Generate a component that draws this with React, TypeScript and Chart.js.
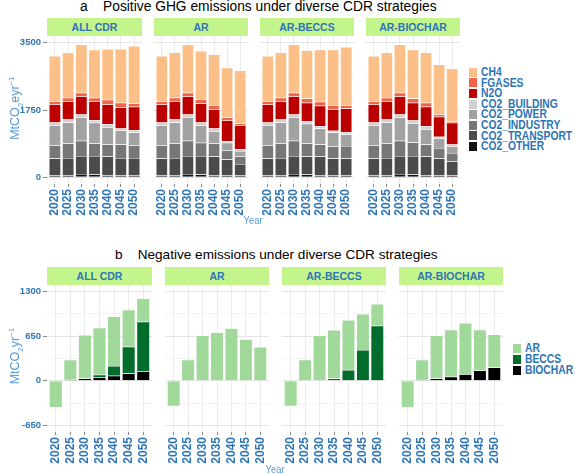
import React, { useEffect, useRef } from 'react';
import { Chart, registerables } from 'chart.js';

Chart.register(...registerables);

// ---------- data ----------
const YEARS = ['2020', '2025', '2030', '2035', '2040', '2045', '2050'];
const FACETS = ['ALL CDR', 'AR', 'AR-BECCS', 'AR-BIOCHAR'];

// Panel a: positive GHG emissions (MtCO2e/yr), stacked bottom -> top
const POS_SERIES = ['CO2_OTHER', 'CO2_TRANSPORT', 'CO2_INDUSTRY', 'CO2_POWER', 'CO2_BUILDING', 'N2O', 'FGASES', 'CH4'];
const POS_COLORS = ['#141414', '#4B4B4B', '#777777', '#A2A2A2', '#D0D0D0', '#BC0000', '#F2644A', '#FDBF88'];

const CO2_OTHER_ALLCDR = [52, 52, 87, 70, 52, 52, 52];
const CO2_OTHER_AR = [52, 52, 87, 70, 52, 52, 52];
const CO2_OTHER_BECCS = [52, 52, 87, 70, 52, 52, 52];
const CO2_OTHER_BIOCHAR = [52, 52, 87, 70, 52, 52, 52];

const CO2_TRANSPORT_ALLCDR = [434, 452, 469, 486, 486, 452, 452];
const CO2_TRANSPORT_AR = [434, 452, 469, 486, 486, 408, 295];
const CO2_TRANSPORT_BECCS = [434, 452, 469, 468, 486, 434, 434];
const CO2_TRANSPORT_BIOCHAR = [434, 452, 469, 486, 486, 434, 365];

const CO2_INDUSTRY_ALLCDR = [348, 373, 391, 321, 313, 347, 330];
const CO2_INDUSTRY_AR = [348, 373, 391, 339, 339, 243, 200];
const CO2_INDUSTRY_BECCS = [348, 373, 391, 339, 313, 322, 330];
const CO2_INDUSTRY_BIOCHAR = [348, 373, 391, 347, 313, 278, 217];

const CO2_POWER_ALLCDR = [521, 547, 616, 539, 452, 365, 330];
const CO2_POWER_AR = [521, 547, 616, 460, 322, 192, 139];
const CO2_POWER_BECCS = [521, 547, 616, 513, 417, 356, 296];
const CO2_POWER_BIOCHAR = [521, 547, 616, 504, 400, 243, 174];

const CO2_BUILDING_ALLCDR = [69, 78, 70, 69, 78, 52, 61];
const CO2_BUILDING_AR = [69, 78, 70, 69, 69, 43, 44];
const CO2_BUILDING_BECCS = [69, 78, 70, 69, 69, 43, 60];
const CO2_BUILDING_BIOCHAR = [69, 78, 70, 69, 78, 44, 43];

const N2O_ALLCDR = [478, 478, 477, 495, 521, 547, 608];
const N2O_AR = [478, 478, 477, 495, 504, 547, 625];
const N2O_BECCS = [478, 478, 477, 478, 522, 565, 617];
const N2O_BIOCHAR = [478, 478, 477, 461, 504, 521, 565];

const FGASES_ALLCDR = [78, 87, 87, 87, 113, 122, 86];
const FGASES_AR = [78, 87, 87, 113, 104, 70, 43];
const FGASES_BECCS = [78, 87, 87, 113, 104, 104, 87];
const FGASES_BIOCHAR = [78, 87, 87, 113, 104, 69, 43];

const CH4_ALLCDR = [1173, 1181, 1260, 1251, 1320, 1398, 1494];
const CH4_AR = [1173, 1181, 1260, 1251, 1320, 1294, 1381];
const CH4_BECCS = [1173, 1181, 1260, 1250, 1355, 1442, 1511];
const CH4_BIOCHAR = [1173, 1181, 1260, 1268, 1311, 1294, 1372];

// Panel b: negative emissions (MtCO2/yr), stacked bottom -> top
const NEG_SERIES = ['BIOCHAR', 'BECCS', 'AR'];
const NEG_COLORS = ['#000000', '#006D2C', '#A1D99B'];

const BIOCHAR_ALLCDR = [null, 20, 34, 53, 72, 106, 140];
const BECCS_ALLCDR = [null, null, null, 34, 145, 390, 722];
const AR_ALLCDR = [-390, 288, 635, 688, 722, 539, 337];

const AR_AR = [-371, 308, 660, 703, 766, 607, 491];

const BECCS_BECCS = [null, null, null, 34, 159, 448, 804];
const AR_BECCS = [-371, 308, 660, 708, 727, 525, 318];

const BIOCHAR_BIOCHAR = [null, 24, 34, 58, 96, 149, 193];
const AR_BIOCHAR = [-395, 284, 626, 688, 747, 597, 481];

const NONE = [null, null, null, null, null, null, null];

const POS_TABLE = [
  [CO2_OTHER_ALLCDR, CO2_TRANSPORT_ALLCDR, CO2_INDUSTRY_ALLCDR, CO2_POWER_ALLCDR, CO2_BUILDING_ALLCDR, N2O_ALLCDR, FGASES_ALLCDR, CH4_ALLCDR],
  [CO2_OTHER_AR, CO2_TRANSPORT_AR, CO2_INDUSTRY_AR, CO2_POWER_AR, CO2_BUILDING_AR, N2O_AR, FGASES_AR, CH4_AR],
  [CO2_OTHER_BECCS, CO2_TRANSPORT_BECCS, CO2_INDUSTRY_BECCS, CO2_POWER_BECCS, CO2_BUILDING_BECCS, N2O_BECCS, FGASES_BECCS, CH4_BECCS],
  [CO2_OTHER_BIOCHAR, CO2_TRANSPORT_BIOCHAR, CO2_INDUSTRY_BIOCHAR, CO2_POWER_BIOCHAR, CO2_BUILDING_BIOCHAR, N2O_BIOCHAR, FGASES_BIOCHAR, CH4_BIOCHAR],
];
const NEG_TABLE = [
  [BIOCHAR_ALLCDR, BECCS_ALLCDR, AR_ALLCDR],
  [NONE, NONE, AR_AR],
  [NONE, BECCS_BECCS, AR_BECCS],
  [BIOCHAR_BIOCHAR, NONE, AR_BIOCHAR],
];

// y ticks (major ones are labelled, minor ones only get a light grid line)
const POS_YTICKS = [0, 875, 1750, 2625, 3500];
const POS_YLABELS = [0, 1750, 3500];
const POS_YRANGE = [-175, 3675];
const NEG_YTICKS = [-650, -325, 0, 325, 650, 975, 1300];
const NEG_YLABELS = [-650, 0, 650, 1300];
const NEG_YRANGE = [-747.5, 1397.5];

// ---------- styling ----------
const BLUE = '#2E75B6';
const LIGHTBLUE = '#5B9BD5';
const STRIP = '#C4F48C';
const FONT = "'Liberation Sans', Arial, sans-serif";

type FacetProps = {
  x: number; y: number; w: number; h: number; axisW: number; axisH: number;
  values: (number | null)[][]; names: string[]; colors: string[];
  yTicks: number[]; yLabels: number[]; yRange: number[];
  showY: boolean;
};

function Facet(p: FacetProps) {
  const ref = useRef<HTMLCanvasElement>(null);
  useEffect(() => {
    const isMajor = (v: number) => p.yLabels.some((m) => Math.abs(m - v) < 1e-6);
    const chart = new Chart(ref.current as HTMLCanvasElement, {
      type: 'bar',
      data: {
        datasets: p.values.map((vals, k) => ({
          label: p.names[k],
          data: vals.map((v, i) => ({ x: i + 1, y: v })),
          backgroundColor: p.colors[k],
          borderColor: '#ffffff',
          borderWidth: 0.5,
          categoryPercentage: 1,
          barPercentage: 0.9,
        })),
      } as any,
      options: {
        responsive: false,
        animation: false,
        devicePixelRatio: 1,
        layout: { padding: 0 },
        plugins: { legend: { display: false }, tooltip: { enabled: false } },
        scales: {
          x: {
            type: 'linear',
            min: 0.4,
            max: YEARS.length + 0.6,
            stacked: true,
            offset: false,
            afterBuildTicks: (s: any) => { s.ticks = YEARS.map((_, i) => ({ value: i + 1 })); },
            afterFit: (s: any) => { s.height = p.axisH; s.paddingLeft = 0; s.paddingRight = 0; },
            border: { display: false },
            grid: { offset: false, color: '#EBEBEB', lineWidth: 1, drawTicks: true, tickLength: 3, tickColor: '#8A8A8A' },
            ticks: {
              autoSkip: false,
              minRotation: 90,
              maxRotation: 90,
              padding: 2,
              color: BLUE,
              font: { family: FONT, size: 12, weight: 'bold' },
              callback: (v: any) => YEARS[Math.round(Number(v)) - 1] ?? '',
            },
          },
          y: {
            type: 'linear',
            min: p.yRange[0],
            max: p.yRange[1],
            stacked: true,
            afterBuildTicks: (s: any) => { s.ticks = p.yTicks.map((v) => ({ value: v })); },
            afterFit: (s: any) => { s.width = p.axisW; s.paddingTop = 0; s.paddingBottom = 0; },
            border: { display: false },
            grid: {
              color: (c: any) => (c.tick && isMajor(c.tick.value) ? '#E4E4E4' : '#F2F2F2'),
              lineWidth: 1,
              drawTicks: p.showY,
              tickLength: 4,
              tickColor: (c: any) => (c.tick && isMajor(c.tick.value) ? '#8A8A8A' : 'rgba(0,0,0,0)'),
            },
            ticks: {
              display: p.showY,
              autoSkip: false,
              padding: 2,
              color: BLUE,
              font: { family: FONT, size: 9.5, weight: 'bold' },
              callback: (v: any) => (isMajor(Number(v)) ? String(Math.round(Number(v))) : ''),
            },
          },
        },
      } as any,
    });
    return () => chart.destroy();
  }, []);
  const cw = p.axisW + p.w;
  const ch = p.h + p.axisH;
  return (
    <canvas
      ref={ref}
      width={cw}
      height={ch}
      style={{ position: 'absolute', left: p.x - p.axisW, top: p.y, width: cw, height: ch }}
    />
  );
}

const abs = (o: React.CSSProperties): React.CSSProperties => ({ position: 'absolute', ...o });

function Strip({ x, y, w, h, label }: { x: number; y: number; w: number; h: number; label: string }) {
  return (
    <div style={abs({ left: x, top: y, width: w, height: h, background: STRIP, color: BLUE, fontFamily: FONT, fontWeight: 'bold', fontSize: 10.5, lineHeight: h + 'px', textAlign: 'center' })}>
      {label}
    </div>
  );
}

function Legend({ x, y, step, names, colors }: { x: number; y: number; step: number; names: string[]; colors: string[] }) {
  return (
    <>
      {names.map((n, i) => (
        <div key={n} style={abs({ left: x, top: y + i * step, height: step, width: 120, whiteSpace: 'nowrap' })}>
          <div style={abs({ left: 0, top: (step - 9) / 2, width: 8, height: 9, background: colors[i] })} />
          <span style={abs({ left: 12, top: 0, color: BLUE, fontFamily: FONT, fontWeight: 'bold', fontSize: 12, lineHeight: step + 'px', transform: 'scaleX(0.86)', transformOrigin: '0 50%' })}>{n}</span>
        </div>
      ))}
    </>
  );
}

function YTitle({ cx, cy, children }: { cx: number; cy: number; children: React.ReactNode }) {
  return (
    <div style={abs({ left: cx - 60, top: cy - 8, width: 120, height: 16, lineHeight: '16px', textAlign: 'center', transform: 'rotate(-90deg)', color: LIGHTBLUE, fontFamily: FONT, fontSize: 12.5, whiteSpace: 'nowrap' })}>
      {children}
    </div>
  );
}

function XTitle({ cx, cy }: { cx: number; cy: number }) {
  return (
    <div style={abs({ left: cx - 20, top: cy - 7, width: 40, height: 14, textAlign: 'center', color: LIGHTBLUE, fontFamily: FONT, fontSize: 11.5, lineHeight: '14px', transform: 'scaleX(0.82)' })}>Year</div>
  );
}

export default function App() {
  const TOP_X = [47, 154, 260, 366];
  const BOT_X = [47, 165, 282, 399];
  const legendTop = POS_SERIES.map((_, i) => POS_SERIES[POS_SERIES.length - 1 - i]);
  const legendTopC = POS_COLORS.map((_, i) => POS_COLORS[POS_COLORS.length - 1 - i]);
  const legendBot = NEG_SERIES.map((_, i) => NEG_SERIES[NEG_SERIES.length - 1 - i]);
  const legendBotC = NEG_COLORS.map((_, i) => NEG_COLORS[NEG_COLORS.length - 1 - i]);
  return (
    <div style={abs({ left: 0, top: 0, width: 575, height: 474, background: '#ffffff', overflow: 'hidden' })}>
      <div style={abs({ left: 80, top: -2, height: 17, lineHeight: '17px', fontFamily: FONT, fontSize: 13.8, color: '#000', whiteSpace: 'pre' })}>
        {'a    Positive GHG emissions under diverse CDR strategies'}
      </div>
      {FACETS.map((f, i) => (
        <Strip key={'ts' + f} x={TOP_X[i]} y={18} w={i === 0 ? 95 : 94} h={18} label={f} />
      ))}
      {FACETS.map((f, i) => (
        <Facet
          key={'tf' + f}
          x={TOP_X[i]} y={36} w={i === 0 ? 95 : 94} h={148} axisW={i === 0 ? 47 : 0} axisH={34}
          values={POS_TABLE[i]} names={POS_SERIES} colors={POS_COLORS}
          yTicks={POS_YTICKS} yLabels={POS_YLABELS} yRange={POS_YRANGE} showY={i === 0}
        />
      ))}
      <YTitle cx={12} cy={108}>MtCO<sub style={{ fontSize: 8 }}>2</sub>eyr<sup style={{ fontSize: 8 }}>−1</sup></YTitle>
      <XTitle cx={253} cy={220} />
      <Legend x={469} y={67} step={10.6} names={legendTop} colors={legendTopC} />

      <div style={abs({ left: 115, top: 246, height: 17, lineHeight: '17px', fontFamily: FONT, fontSize: 13.6, color: '#000', whiteSpace: 'pre' })}>
        {'b    Negative emissions under diverse CDR strategies'}
      </div>
      {FACETS.map((f, i) => (
        <Strip key={'bs' + f} x={BOT_X[i]} y={267} w={i === 0 ? 105 : 104} h={18} label={f} />
      ))}
      {FACETS.map((f, i) => (
        <Facet
          key={'bf' + f}
          x={BOT_X[i]} y={285} w={i === 0 ? 105 : 104} h={147} axisW={i === 0 ? 47 : 0} axisH={34}
          values={NEG_TABLE[i]} names={NEG_SERIES} colors={NEG_COLORS}
          yTicks={NEG_YTICKS} yLabels={NEG_YLABELS} yRange={NEG_YRANGE} showY={i === 0}
        />
      ))}
      <YTitle cx={12} cy={356}>MtCO<sub style={{ fontSize: 8 }}>2</sub>yr<sup style={{ fontSize: 8 }}>−1</sup></YTitle>
      <XTitle cx={275} cy={469} />
      <Legend x={513} y={343} step={11} names={legendBot} colors={legendBotC} />
    </div>
  );
}
